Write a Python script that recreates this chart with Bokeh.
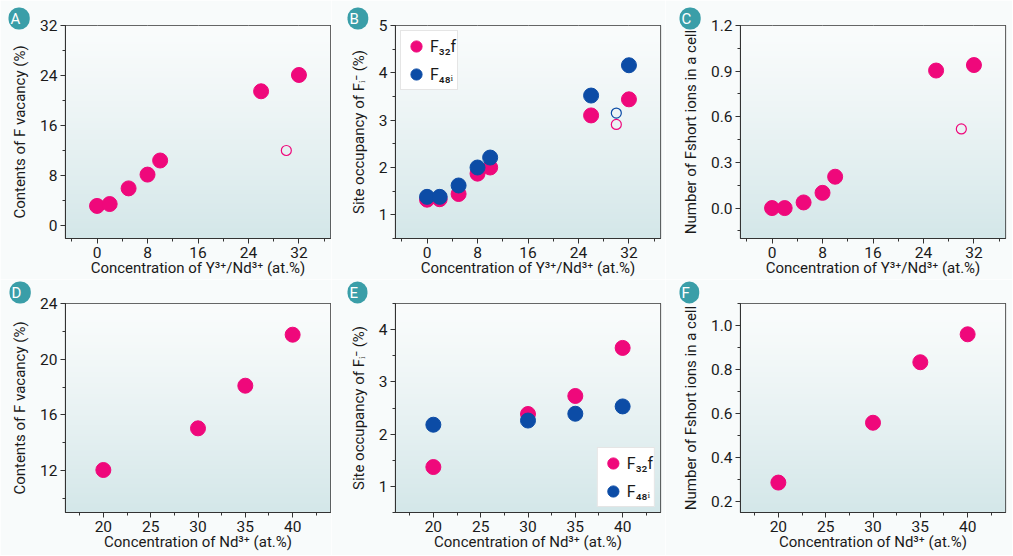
import numpy as np
from bokeh.plotting import figure
from bokeh.layouts import column, row
from bokeh.models import (SingleIntervalTicker, Legend, LegendItem, Title,
                          NumeralTickFormatter, Range1d)
from bokeh.embed import file_html
from bokeh.resources import INLINE

# ---------------- data ----------------
conc_yn = [0, 2, 5, 8, 10, 26, 32]
conc_yn_open = [30]
vac_a = [3.2, 3.5, 6.0, 8.2, 10.45, 21.5, 24.1]
vac_a_open = [12.05]
occ_b_32f = [1.32, 1.33, 1.44, 1.87, 2.0, 3.1, 3.44]
occ_b_48i = [1.38, 1.38, 1.62, 2.0, 2.21, 3.52, 4.16]
occ_b_32f_open = [2.91]
occ_b_48i_open = [3.15]
fshort_c = [0.0, 0.0, 0.037, 0.10, 0.206, 0.904, 0.94]
fshort_c_open = [0.52]

conc_nd = [20, 30, 35, 40]
vac_d = [12.05, 15.04, 18.1, 21.76]
occ_e_32f = [1.37, 2.385, 2.73, 3.65]
occ_e_48i = [2.18, 2.26, 2.39, 2.53]
fshort_f = [0.286, 0.558, 0.833, 0.96]

x_label_yn = "Concentration of Y³⁺/Nd³⁺ (at.%)"
x_label_nd = "Concentration of Nd³⁺ (at.%)"
y_label_vac = "Contents of F vacancy (%)"
y_label_occ = "Site occupancy of Fᵢ⁻ (%)"
y_label_fs = "Number of Fshort ions in a cell"
legend_labels = ["F₃₂f", "F₄₈ᵢ"]
panel_letters = ["A", "B", "C", "D", "E", "F"]

PINK = "#ef087b"
BLUE = "#0c4ca6"
TEAL = "#3a9ea8"
FONT = "Roboto"

# gradient image (background decoration)
N = 200
t = np.linspace(0, 1, N)  # 0 = bottom, 1 = top
top = np.array([250, 252, 252])
bot = np.array([212, 231, 233])
w = (1 - t) ** 1.2
cols = (bot[None, :] * w[:, None] + top[None, :] * (1 - w[:, None])).astype(np.uint32)
grad = np.zeros((N, 1), dtype=np.uint32)
view = grad.view(dtype=np.uint8).reshape((N, 1, 4))
view[:, 0, 0] = cols[:, 0]
view[:, 0, 1] = cols[:, 1]
view[:, 0, 2] = cols[:, 2]
view[:, 0, 3] = 255


def make_fig(letter, offset, standoff, xr, yr, xint, yint, xlab, ylab,
             width, bl, br, height, bt, bb, yfmt=None):
    title = Title(text=" " + letter + " ", align="left", offset=offset, standoff=standoff,
                  text_color="white", text_font=FONT, text_font_size="15px",
                  text_font_style="normal", background_fill_color=TEAL,
                  border_radius=10, padding=2)
    p = figure(width=width, height=height, output_backend="svg", toolbar_location=None,
               x_range=Range1d(*xr), y_range=Range1d(*yr), title=title,
               min_border_left=bl, min_border_right=br,
               min_border_top=bt, min_border_bottom=bb)
    p.image_rgba(image=[grad], x=xr[0], y=yr[0], dw=xr[1] - xr[0], dh=yr[1] - yr[0])
    p.background_fill_color = "#ffffff"
    p.border_fill_color = "#f8fbfb"
    p.outline_line_color = "#333333"
    p.outline_line_width = 1.2
    p.xaxis.ticker = SingleIntervalTicker(interval=xint, num_minor_ticks=2)
    p.yaxis.ticker = SingleIntervalTicker(interval=yint, num_minor_ticks=2)
    if yfmt:
        p.yaxis.formatter = NumeralTickFormatter(format=yfmt)
    for ax in (p.xaxis[0], p.yaxis[0]):
        ax.axis_line_color = "#333333"
        ax.major_tick_line_color = "#333333"
        ax.minor_tick_line_color = "#333333"
        ax.major_tick_in = 0
        ax.major_tick_out = 5
        ax.minor_tick_in = 0
        ax.minor_tick_out = 3
        ax.major_label_text_font = FONT
        ax.major_label_text_font_size = "15.5px"
        ax.major_label_text_color = "#1a1a1a"
        ax.axis_label_text_font = FONT
        ax.axis_label_text_font_size = "15px"
        ax.axis_label_text_font_style = "normal"
        ax.axis_label_text_color = "#1a1a1a"
    p.xaxis.axis_label = xlab
    p.yaxis.axis_label = ylab
    p.xaxis.major_label_standoff = 3
    p.xaxis.axis_label_standoff = -2
    p.yaxis.major_label_standoff = 3
    p.yaxis.axis_label_standoff = 8
    for g in (p.xgrid[0], p.ygrid[0]):
        g.grid_line_color = "#c3c8c9"
        g.grid_line_dash = "4 3"
        g.grid_line_width = 1
    return p


S = 15
S_open = 10

# Row 1
pA = make_fig(panel_letters[0], -57, -8, (-5, 37), (-2, 32), 8, 8, x_label_yn, y_label_vac,
              331, 65, 1, 279, 25, 41)
pA.scatter(conc_yn, vac_a, size=S, color=PINK)
pA.scatter(conc_yn_open, vac_a_open, size=S_open, fill_color=None, line_color=PINK, line_width=1.2)

pB = make_fig(panel_letters[1], -48, -8, (-5, 37), (0.5, 5), 8, 1, x_label_yn, y_label_occ,
              334, 64, 5, 279, 25, 41)
r1 = pB.scatter(conc_yn, occ_b_32f, size=S, color=PINK)
r2 = pB.scatter(conc_yn, occ_b_48i, size=S, color=BLUE)
pB.scatter(conc_yn_open, occ_b_32f_open, size=S_open, fill_color=None, line_color=PINK, line_width=1.2)
pB.scatter(conc_yn_open, occ_b_48i_open, size=S_open, fill_color=None, line_color=BLUE, line_width=1.2)

pC = make_fig(panel_letters[2], -61, -8, (-5, 37), (-0.2, 1.2), 8, 0.3, x_label_yn, y_label_fs,
              347, 75, 7, 279, 25, 41, "0.0")
pC.scatter(conc_yn, fshort_c, size=S, color=PINK)
pC.scatter(conc_yn_open, fshort_c_open, size=S_open, fill_color=None, line_color=PINK, line_width=1.2)

# Row 2
pD = make_fig(panel_letters[3], -56, 0, (16, 44), (9, 24), 5, 4, x_label_nd, y_label_vac,
              331, 65, 1, 276, 19, 43)
pD.scatter(conc_nd, vac_d, size=S, color=PINK)

pE = make_fig(panel_letters[4], -48, 0, (16, 44), (0.5, 4.5), 5, 1, x_label_nd, y_label_occ,
              334, 64, 5, 276, 19, 43)
e1 = pE.scatter(conc_nd, occ_e_32f, size=S, color=PINK)
e2 = pE.scatter(conc_nd, occ_e_48i, size=S, color=BLUE)

pF = make_fig(panel_letters[5], -61, 0, (16, 44), (0.15, 1.1), 5, 0.2, x_label_nd, y_label_fs,
              347, 75, 7, 276, 19, 43, "0.0")
pF.scatter(conc_nd, fshort_f, size=S, color=PINK)


def add_legend(p, rs, loc):
    lg = Legend(items=[LegendItem(label=legend_labels[0], renderers=[rs[0]]),
                       LegendItem(label=legend_labels[1], renderers=[rs[1]])],
                location=loc, label_text_font=FONT, label_text_font_size="16px",
                label_text_color="#1a1a1a", glyph_width=28, glyph_height=28,
                spacing=-6, padding=1, margin=5, border_line_color="#cccccc",
                background_fill_color="white", background_fill_alpha=1.0,
                label_standoff=0)
    p.add_layout(lg)


add_legend(pB, [r1, r2], "top_left")
add_legend(pE, [e1, e2], "bottom_right")

layout = column(row(pA, pB, pC), row(pD, pE, pF))
open("out.html", "w").write(file_html(layout, INLINE))
